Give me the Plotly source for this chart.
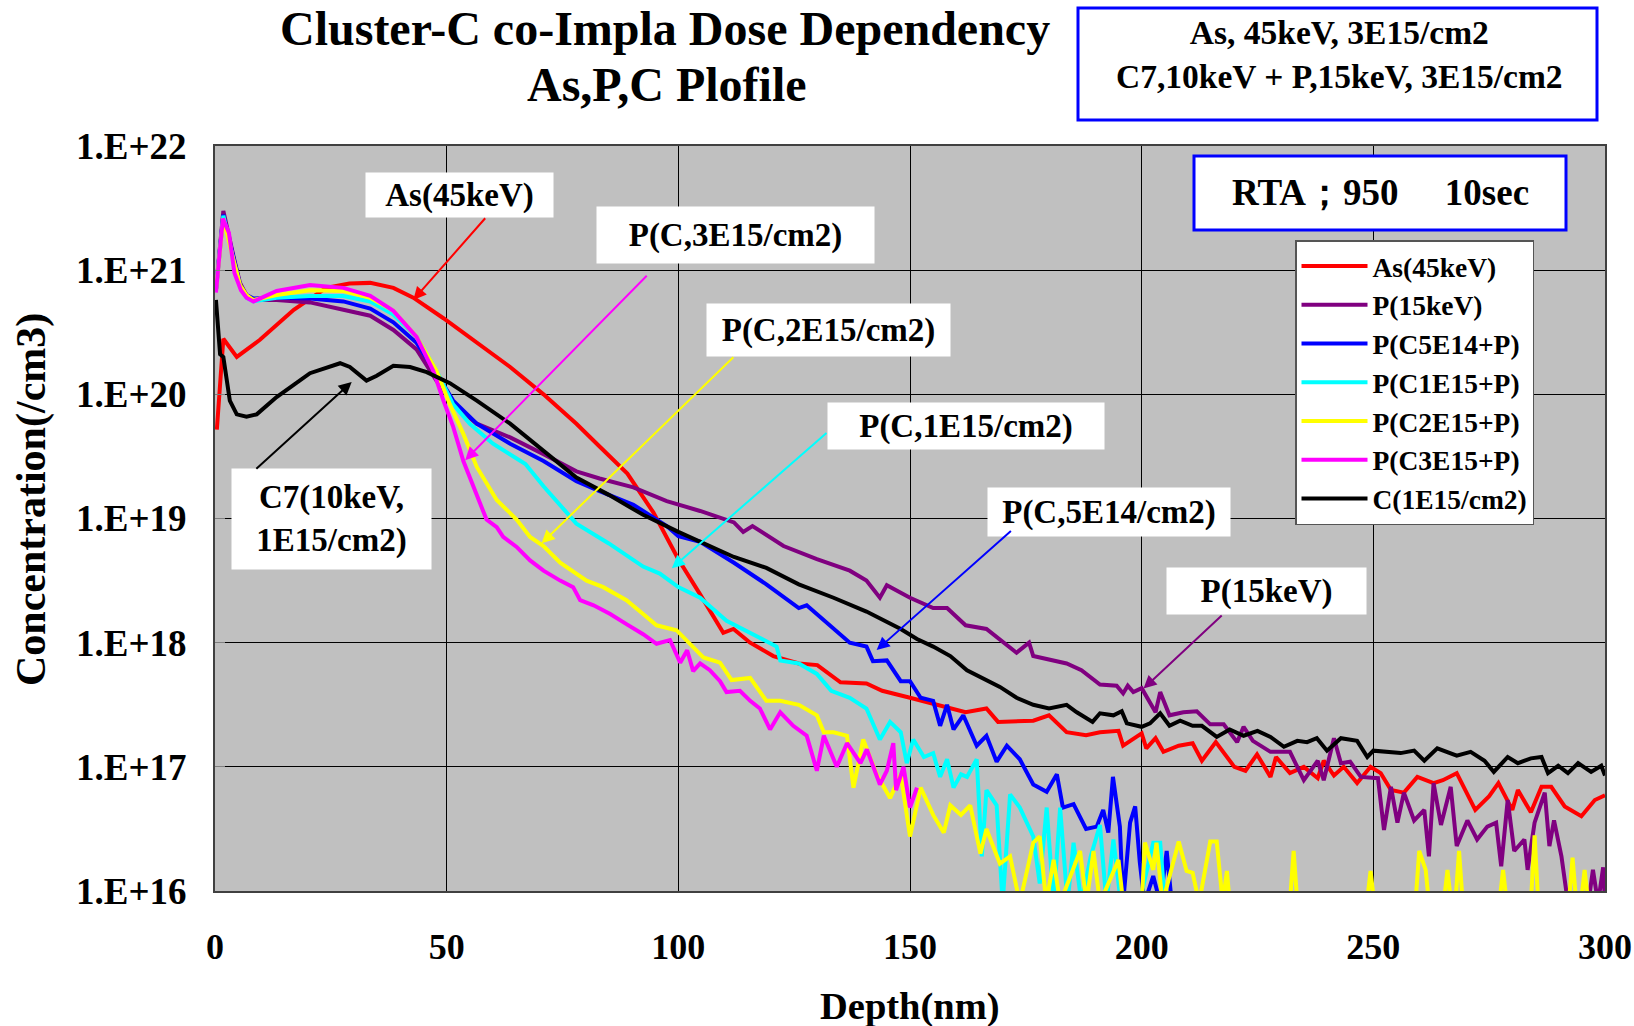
import plotly.graph_objects as go

# ---------------- data (depth nm, concentration /cm3) ----------------
as_45kev = [(0.4, 5.2e19), (1.8, 2.8e20), (4.7, 2.0e20), (9.7, 2.75e20), (17, 4.8e20), (24, 7.2e20),
            (29, 7.8e20), (33.5, 7.9e20), (38.5, 7.2e20), (42.8, 6.0e20), (49.3, 4.1e20), (56.5, 2.6e20),
            (63.7, 1.66e20), (70.9, 1.0e20), (78, 5.8e19), (83, 3.8e19), (89, 2.3e19), (94.6, 1.12e19),
            (100, 4.7e18), (104.7, 2.45e18), (109.7, 1.2e18), (111.9, 1.29e18), (115.5, 1.0e18),
            (120.5, 7.8e17), (126, 6.8e17), (130, 6.6e17), (135, 4.8e17), (140.6, 4.7e17), (144, 4.1e17),
            (150, 3.6e17), (155, 3.2e17), (162, 2.75e17), (166.5, 2.95e17), (169, 2.3e17), (176.6, 2.35e17),
            (180, 2.6e17), (183.8, 1.9e17), (188, 1.8e17), (191, 1.9e17), (195, 1.95e17), (196, 1.48e17),
            (200, 1.86e17), (201, 1.41e17), (203, 1.7e17), (204.7, 1.32e17), (208, 1.48e17), (211, 1.55e17),
            (213, 1.12e17), (216, 1.58e17), (220, 1.0e17), (222.4, 9.3e16), (224.9, 1.26e17), (227.8, 8.3e16),
            (229, 1.2e17), (232, 8.9e16), (235, 1.0e17), (238, 8.1e16), (239.3, 1.12e17), (241.5, 8.5e16),
            (243.6, 1.0e17), (246.5, 7.4e16), (249.4, 1.0e17), (251.6, 8.9e16), (253.8, 6.5e16), (256.6, 6.2e16),
            (259.5, 8.3e16), (263, 7.4e16), (265, 7.8e16), (268, 8.9e16), (272, 4.5e16), (275, 5.8e16),
            (277, 7.4e16), (280, 4.5e16), (281.2, 6.5e16), (284, 4.3e16), (286.3, 6.9e16), (288.4, 6.9e16),
            (291.3, 4.8e16), (294.9, 4.0e16), (297.8, 5.4e16), (300, 5.9e16)]

p_15kev = [(0.2, 6.9e20), (1.8, 3.0e21), (4.0, 1.29e21), (5.4, 7.9e20), (6.8, 6.3e20), (8.3, 5.75e20),
           (13.3, 5.75e20), (20.5, 5.5e20), (27.7, 4.8e20), (33.5, 4.3e20), (38.5, 3.3e20), (43.5, 2.3e20),
           (47.8, 1.29e20), (51.4, 8.3e19), (56.5, 5.8e19), (63.7, 4.5e19), (70.9, 3.3e19), (78, 2.4e19),
           (83, 2.1e19), (90.3, 1.78e19), (97.5, 1.38e19), (104.7, 1.15e19), (112, 9.3e18), (114, 7.8e18),
           (116, 8.7e18), (122.7, 6.0e18), (129.9, 4.7e18), (137, 3.8e18), (140.6, 3.16e18), (143.5, 2.3e18),
           (145, 2.9e18), (150, 2.3e18), (155, 1.9e18), (158, 1.9e18), (162, 1.38e18), (166.5, 1.29e18),
           (173, 8.3e17), (175.7, 1.0e18), (176.6, 7.8e17), (183.8, 6.8e17), (187, 6.0e17), (191, 4.6e17),
           (194.6, 4.5e17), (196, 3.9e17), (197, 4.5e17), (198.2, 4.0e17), (200, 4.3e17), (203, 2.75e17),
           (204, 4.0e17), (206, 2.6e17), (209, 2.75e17), (211.9, 2.8e17), (214.8, 2.2e17), (217.7, 2.2e17),
           (220.6, 1.58e17), (222, 2.1e17), (224, 1.62e17), (227.8, 1.32e17), (232, 1.32e17), (235, 7.8e16),
           (238, 1.12e17), (239.3, 7.8e16), (241.5, 1.7e17), (243, 1.07e17), (245, 1.1e17), (247.3, 8.3e16),
           (251, 8.1e16), (252.3, 3.1e16), (253.8, 6.9e16), (255.2, 3.55e16), (256.6, 6.2e16), (258.8, 3.7e16),
           (261, 4.5e16), (262, 1.9e16), (263, 7.4e16), (264.6, 3.4e16), (266.7, 6.9e16), (268, 2.3e16),
           (270.3, 3.7e16), (272.4, 2.6e16), (274.6, 3.3e16), (276.5, 3.55e16), (277.6, 1.58e16), (279, 5.4e16),
           (280.4, 2.1e16), (282.6, 2.6e16), (283.3, 1.48e16), (284.8, 3.55e16), (287, 6.2e16), (288, 2.3e16),
           (289, 3.7e16), (290.6, 1.9e16), (292, 8e15), (296.4, 8e15), (297.4, 1.48e16), (298.5, 8e15),
           (299.6, 1.55e16), (300, 8e15)]

p_c5e14 = [(0.2, 6.9e20), (1.8, 2.8e21), (4.0, 1.26e21), (5.4, 7.6e20), (6.8, 6.3e20), (8.3, 5.9e20),
           (13.3, 6.0e20), (20.5, 5.9e20), (27.7, 5.6e20), (33.5, 4.9e20), (38.5, 3.8e20), (43.5, 2.6e20),
           (47.8, 1.48e20), (51.4, 8.9e19), (56.5, 5.8e19), (63.7, 4.0e19), (70.9, 2.9e19), (78, 2.0e19),
           (83, 1.66e19), (90.3, 1.29e19), (97.5, 8.7e18), (100, 7.2e18), (104.7, 6.5e18), (112, 4.4e18),
           (119, 2.95e18), (126, 1.9e18), (127.7, 2.0e18), (133.5, 1.29e18), (137, 1.0e18), (140.6, 9.3e17),
           (142, 7.1e17), (145, 7.2e17), (148, 4.9e17), (150, 4.9e17), (152.3, 3.6e17), (155, 3.4e17),
           (156.5, 2.14e17), (158, 3.16e17), (159.4, 2.0e17), (161.5, 2.6e17), (164.4, 1.48e17),
           (166.5, 1.78e17), (168.7, 1.1e17), (170.9, 1.48e17), (173.7, 1.15e17), (176.6, 7.2e16),
           (179.5, 6.3e16), (181.7, 8.7e16), (183, 4.7e16), (185.3, 5.0e16), (188, 3.16e16), (190.3, 3.3e16),
           (191.7, 4.5e16), (192.8, 2.95e16), (193.8, 8.3e16), (195.3, 3.3e16), (196, 8e15), (197.5, 3.55e16),
           (198.6, 4.8e16), (199.6, 1.7e16), (200.6, 8e15), (202.5, 1.32e16), (204, 8e15), (205.4, 2.1e16),
           (206.5, 8e15)]

p_c1e15 = [(0.2, 6.9e20), (1.8, 2.75e21), (4.0, 1.2e21), (5.4, 7.4e20), (6.8, 6.0e20), (8.3, 5.6e20),
           (13.3, 6.0e20), (20.5, 6.2e20), (27.7, 6.2e20), (33.5, 5.6e20), (38.5, 4.4e20), (43.5, 2.9e20),
           (47.8, 1.55e20), (51.4, 8.3e19), (55, 5.8e19), (60, 4.0e19), (67, 2.75e19), (70.9, 1.82e19),
           (78, 9.1e18), (85, 6.3e18), (92.4, 4.1e18), (96, 3.6e18), (100, 2.8e18), (104.7, 2.3e18),
           (110.4, 1.5e18), (115.5, 1.2e18), (121.2, 9.3e17), (122, 7.2e17), (126, 6.8e17), (129.9, 5.6e17),
           (133, 4.1e17), (137, 3.6e17), (140.6, 2.95e17), (143.5, 1.66e17), (145.7, 2.3e17), (148, 1.9e17),
           (149.3, 1.07e17), (150.7, 1.66e17), (153, 1.2e17), (155, 1.29e17), (156.5, 8.3e16), (158, 1.15e17),
           (159.4, 6.8e16), (161, 8.7e16), (162.3, 8.3e16), (164.4, 1.15e17), (165.5, 1.9e16), (166.5, 6.5e16),
           (168.7, 4.9e16), (170, 8e15), (171.6, 6.0e16), (173.7, 4.7e16), (176.6, 2.75e16), (178, 1.15e16),
           (179.5, 4.7e16), (181, 8e15), (182.4, 4.7e16), (184, 8e15), (185.3, 2.45e16), (187, 8e15),
           (189, 1.9e16), (191, 3.4e16), (192.4, 8e15), (193.9, 2.6e16), (195.5, 8e15), (199.5, 8e15),
           (202.5, 2.45e16), (204, 2.45e16), (205, 8e15)]

p_c2e15 = [(0.2, 6.9e20), (1.8, 2.6e21), (4.0, 1.2e21), (5.4, 7.6e20), (6.8, 6.3e20), (8.3, 5.75e20),
           (13.3, 6.3e20), (20.5, 6.9e20), (27.7, 6.8e20), (33.5, 6.0e20), (38.5, 4.7e20), (43.5, 2.9e20),
           (47.8, 1.55e20), (50.7, 8.3e19), (53.6, 4.8e19), (56.5, 2.6e19), (60.8, 1.41e19), (65.1, 9.8e18),
           (68, 7.1e18), (70.9, 6.0e18), (74.5, 4.4e18), (78, 3.6e18), (80.2, 3.16e18), (83.8, 2.8e18),
           (88.8, 2.2e18), (92.4, 1.7e18), (95.3, 1.38e18), (99.6, 1.26e18), (102.5, 9.8e17), (105.4, 7.6e17),
           (109, 6.9e17), (111.5, 5.0e17), (115.5, 5.2e17), (119, 3.4e17), (122, 3.4e17), (126, 3.16e17),
           (129.9, 2.6e17), (131.4, 1.9e17), (133.5, 1.9e17), (136.4, 1.78e17), (137.8, 6.8e16),
           (139.9, 1.66e17), (142.8, 8.7e16), (145.7, 5.6e16), (148, 8.7e16), (150, 2.75e16), (152.3, 6.8e16),
           (155, 4.1e16), (157.3, 2.95e16), (158.7, 4.9e16), (161, 4.1e16), (163, 4.9e16), (165.2, 2.0e16),
           (166.5, 3.16e16), (169.4, 1.66e16), (171.6, 1.9e16), (173.7, 8e15), (176.6, 2.45e16),
           (178, 2.75e16), (179.4, 8e15), (181, 1.78e16), (182.4, 8e15), (186.7, 2.1e16), (188.1, 8e15),
           (189.6, 2.1e16), (191, 8e15), (195, 1.78e16), (196, 8e15), (200, 8e15), (200.7, 2.45e16),
           (202.5, 1.48e16), (203.2, 2.45e16), (204.5, 8e15), (208, 2.5e16), (209.7, 1.45e16), (211, 1.4e16),
           (212.4, 8e15), (214.8, 2.5e16), (216.2, 2.5e16), (217.5, 8e15), (218.4, 1.45e16), (219, 8e15),
           (232, 8e15), (232.8, 2.1e16), (233.6, 8e15), (248.6, 8e15), (249.4, 1.45e16), (250.2, 8e15),
           (259.1, 8e15), (259.9, 2.1e16), (261.3, 1.48e16), (262, 8e15), (265.2, 8e15), (266, 1.48e16),
           (266.8, 8e15), (267.7, 8e15), (268.5, 2.1e16), (269.3, 8e15), (277.2, 8e15), (278, 1.48e16),
           (278.8, 8e15), (284, 8e15), (284.8, 2.8e16), (285.6, 8e15), (292.2, 8e15), (293, 1.86e16),
           (293.8, 8e15), (294.8, 8e15), (295.6, 1.48e16), (296.4, 8e15)]

p_c3e15 = [(0.2, 6.6e20), (1.7, 2.6e21), (3.0, 2.0e21), (4.2, 9.5e20), (5.6, 6.9e20), (6.8, 6.0e20),
           (8.3, 5.6e20), (13.3, 6.8e20), (20.5, 7.6e20), (27.7, 7.2e20), (33.5, 6.2e20), (38.5, 4.7e20),
           (43.5, 2.9e20), (47.1, 1.55e20), (49.3, 8.9e19), (51.4, 5.5e19), (53.6, 2.9e19), (56.5, 1.55e19),
           (58.6, 9.8e18), (60.8, 8.5e18), (62.2, 7.1e18), (65.1, 5.9e18), (68, 4.6e18), (70.9, 3.8e18),
           (74.5, 3.16e18), (77.3, 2.8e18), (78.8, 2.2e18), (81.7, 2.0e18), (85.3, 1.7e18), (88.8, 1.41e18),
           (92.4, 1.17e18), (95.3, 9.8e17), (98.2, 1.05e18), (100.4, 6.9e17), (101.9, 8.7e17), (103.2, 5.9e17),
           (104.7, 6.8e17), (106.8, 6.0e17), (109, 4.9e17), (110.4, 4.0e17), (113.3, 4.1e17), (115.5, 3.4e17),
           (117.6, 2.95e17), (119.8, 2.0e17), (122, 2.75e17), (124.8, 2.14e17), (127.7, 1.78e17),
           (129.9, 9.3e16), (131.4, 1.78e17), (134.2, 1.0e17), (136.4, 1.55e17), (139.3, 1.07e17),
           (140.7, 1.38e17), (143.5, 7.2e16), (145, 9.3e16), (146.4, 1.55e17), (147, 6.5e16), (148.6, 1.0e17),
           (150, 4.7e16), (151.5, 6.8e16)]

c_1e15 = [(0.2, 5.75e20), (1.1, 2.1e20), (1.8, 2.0e20), (3.2, 8.9e19), (4.7, 6.9e19), (6.8, 6.6e19),
          (9, 6.9e19), (13.3, 9.5e19), (20.5, 1.48e20), (27, 1.78e20), (29.1, 1.66e20), (32.7, 1.29e20),
          (34.9, 1.41e20), (38.5, 1.7e20), (42.1, 1.66e20), (45.7, 1.51e20), (50.7, 1.23e20), (56.5, 8.9e19),
          (63.7, 5.8e19), (70.9, 3.55e19), (78, 2.14e19), (85, 1.55e19), (92.4, 1.07e19), (100, 7.8e18),
          (104.7, 6.5e18), (112, 4.9e18), (119, 4.0e18), (126, 2.95e18), (133.5, 2.3e18), (140.6, 1.78e18),
          (148, 1.29e18), (151.5, 1.07e18), (155, 9.3e17), (158.7, 7.8e17), (162.3, 6.0e17), (169.4, 4.4e17),
          (173, 3.6e17), (176.6, 3.16e17), (180, 2.95e17), (183.8, 3.16e17), (186, 2.75e17), (189.4, 2.3e17),
          (191, 2.7e17), (193.9, 2.6e17), (195.7, 2.8e17), (196.8, 2.24e17), (200, 2.1e17), (201.8, 2.24e17),
          (204, 2.7e17), (206, 2.14e17), (208.3, 2.35e17), (211, 2.14e17), (213, 2.14e17), (216.2, 1.74e17),
          (219, 2.0e17), (222, 1.78e17), (225, 1.95e17), (227.8, 1.74e17), (230.7, 1.45e17), (233.6, 1.62e17),
          (235.7, 1.58e17), (237.8, 1.7e17), (240, 1.35e17), (243, 1.7e17), (246.5, 1.62e17), (248.7, 1.2e17),
          (250, 1.35e17), (253.8, 1.32e17), (255.9, 1.29e17), (258.8, 1.35e17), (261, 1.12e17),
          (263.8, 1.41e17), (266, 1.32e17), (268, 1.23e17), (271, 1.32e17), (274, 1.12e17), (276, 9.1e16),
          (279, 1.2e17), (281.2, 1.07e17), (284, 1.17e17), (286.3, 1.2e17), (287.7, 8.9e16), (289.9, 1.02e17),
          (292, 8.9e16), (294.2, 1.07e17), (297, 9.1e16), (299.2, 1.02e17), (300, 8.5e16)]

series_names = ["As(45keV)", "P(15keV)", "P(C5E14+P)", "P(C1E15+P)", "P(C2E15+P)", "P(C3E15+P)", "C(1E15/cm2)"]
series_data = [as_45kev, p_15kev, p_c5e14, p_c1e15, p_c2e15, p_c3e15, c_1e15]
series_colors = ["#FF0000", "#800080", "#0000FF", "#00FFFF", "#FFFF00", "#FF00FF", "#000000"]

x_ticks = [0, 50, 100, 150, 200, 250, 300]
y_ticks = [1e16, 1e17, 1e18, 1e19, 1e20, 1e21, 1e22]
y_tick_text = ["1.E+16", "1.E+17", "1.E+18", "1.E+19", "1.E+20", "1.E+21", "1.E+22"]

# ---------------- figure ----------------
FONT = "Liberation Serif"
W, H = 1634, 1026
L, R, T, B = 215, 29, 146, 135
PW, PH = W - L - R, H - T - B


def px(x):
    return (x - L) / PW


def py(y):
    return (H - B - y) / PH


fig = go.Figure()
for name, data, color in zip(series_names, series_data, series_colors):
    fig.add_trace(go.Scatter(x=[d for d, _ in data], y=[c for _, c in data], name=name,
                             mode="lines", line=dict(color=color, width=4)))

fig.update_layout(
    width=W, height=H, margin=dict(l=L, r=R, t=T, b=B, autoexpand=False),
    paper_bgcolor="white", plot_bgcolor="#C0C0C0",
    font=dict(family=FONT, color="black", weight="bold"),
    legend=dict(x=px(1295), y=py(240), xanchor="left", yanchor="top", bgcolor="white",
                bordercolor="#555555", borderwidth=1.5, font=dict(size=27.5, family=FONT, weight="bold"),
                tracegroupgap=0, itemwidth=66),
    showlegend=True,
)
fig.update_xaxes(range=[0, 300], tickvals=x_ticks, showgrid=True, gridcolor="black", gridwidth=1,
                 showline=True, mirror=True, linecolor="#404040", linewidth=2, zeroline=False,
                 tickfont=dict(size=36, family=FONT, weight="bold"), ticks="", ticklabelstandoff=23)
fig.update_yaxes(type="log", range=[16, 22], tickvals=y_ticks, ticktext=y_tick_text, showgrid=True,
                 gridcolor="black", gridwidth=1, showline=True, mirror=True, linecolor="#404040",
                 linewidth=2, zeroline=False, ticks="inside", ticklen=10, tickcolor="#808080",
                 tickfont=dict(size=37, family=FONT, weight="bold"), ticklabelstandoff=19)

anns = []
# titles
anns.append(dict(text="Cluster-C co-Impla Dose Dependency", x=px(665), y=py(29), font=dict(size=48)))
anns.append(dict(text="As,P,C Plofile", x=px(667), y=py(85), font=dict(size=48)))
anns.append(dict(text="Depth(nm)", x=px(910), y=py(1006), font=dict(size=38.5)))
anns.append(dict(text="Concentration(/cm3)", x=px(31), y=py(500), font=dict(size=42), textangle=-90))
# info boxes text
anns.append(dict(text="As, 45keV, 3E15/cm2<br>C7,10keV + P,15keV, 3E15/cm2", x=px(1339), y=py(54),
                 font=dict(size=33.5)))
anns.append(dict(text="RTA；950\u00a0\u00a0\u00a0\u00a0 10sec", x=px(1380), y=py(193), font=dict(size=37)))
for a in anns:
    a.update(xref="paper", yref="paper", showarrow=False, xanchor="center", yanchor="middle")

# labelled boxes (centre x, centre y, w, h in px)
labels = [("As(45keV)", 459.5, 195, 187, 44),
          ("P(C,3E15/cm2)", 735.5, 235, 277, 56),
          ("P(C,2E15/cm2)", 828.5, 330, 243, 52),
          ("P(C,1E15/cm2)", 966, 426, 276, 46),
          ("P(C,5E14/cm2)", 1109, 512, 242, 48),
          ("P(15keV)", 1266.5, 591, 199, 46),
          ("C7(10keV,<br>1E15/cm2)", 331.5, 519, 199, 100)]
for text, cx, cy, w, h in labels:
    anns.append(dict(text=text, x=px(cx), y=py(cy), xref="paper", yref="paper", showarrow=False,
                     xanchor="center", yanchor="middle", width=w, height=h, bgcolor="white",
                     borderpad=0, font=dict(size=33)))

# arrows: (head x, head log10 y, tail x, tail log10 y, colour)
arrows = [(42.8, 20.76, 58.6, 21.43, "#FF0000"),
          (54.0, 19.47, 93.5, 20.967, "#FF00FF"),
          (70.5, 18.80, 112.2, 20.31, "#FFFF00"),
          (98.6, 18.60, 132.3, 19.70, "#00FFFF"),
          (142.8, 17.94, 172.1, 18.91, "#0000FF"),
          (200.4, 17.63, 217.6, 18.23, "#800080"),
          (29.5, 20.10, 8.6, 19.39, "#000000")]
for hx, hy, tx, ty, col in arrows:
    anns.append(dict(text="", x=hx, y=hy, xref="x", yref="y", ax=tx, ay=ty, axref="x", ayref="y",
                     showarrow=True, arrowhead=2, arrowsize=1.3, arrowwidth=2, arrowcolor=col,
                     standoff=0, startstandoff=0))

fig.update_layout(annotations=anns)

fig.add_shape(type="rect", xref="paper", yref="paper", x0=px(1078), x1=px(1597), y0=py(8), y1=py(120),
              line=dict(color="#0000FF", width=3), fillcolor="white", layer="below")
fig.add_shape(type="rect", xref="paper", yref="paper", x0=px(1194), x1=px(1566), y0=py(156), y1=py(230),
              line=dict(color="#0000FF", width=3), fillcolor="white", layer="above")

fig.write_html("out.html")
